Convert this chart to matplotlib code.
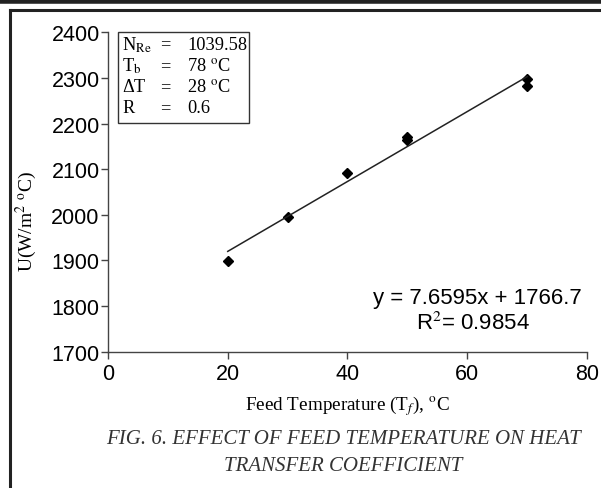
import matplotlib.pyplot as plt
import numpy as np
from matplotlib.lines import Line2D

# measured points
feed_temp = [20, 30, 40, 50, 50, 70, 70]
u_value = [1898, 1995, 2091, 2165, 2170, 2297, 2282]

# linear trendline (slope, intercept) as printed on the chart
trend_coef = [7.6595, 1766.7]
trend_range = [20, 70]

x_ticks = [0, 20, 40, 60, 80]
y_ticks = [1700, 1800, 1900, 2000, 2100, 2200, 2300, 2400]

params = [("N$_{\\mathrm{Re}}$", "1039.58"),
          ("T$_{\\mathrm{b}}$", "78 $^{\\mathrm{o}}$C"),
          ("\u0394T", "28 $^{\\mathrm{o}}$C"),
          ("R", "0.6")]

plt.rcParams['mathtext.fontset'] = 'stix'
serif = 'Liberation Serif'
sans = 'Liberation Sans'

fig = plt.figure(figsize=(6.01, 4.89), dpi=100)
ax = fig.add_axes([0.1797, 0.2787, 0.797, 0.6532])

ax.plot(feed_temp, u_value, linestyle='none', marker='D', markersize=5,
        color='black')
tx = np.array(trend_range)
ax.plot(tx, trend_coef[0] * tx + trend_coef[1], color='#222222', lw=1.1)

ax.set_xlim(0, 80)
ax.set_ylim(1700, 2400)
ax.set_xticks(x_ticks)
ax.set_yticks(y_ticks)
ax.spines['top'].set_visible(False)
ax.spines['right'].set_visible(False)
for s in ('left', 'bottom'):
    ax.spines[s].set_color('#444444')
    ax.spines[s].set_linewidth(1.0)
ax.tick_params(direction='out', length=5, width=1, color='#444444',
               labelsize=15.5, pad=1)
ax.tick_params(axis='x', pad=3)
for lab in ax.get_xticklabels() + ax.get_yticklabels():
    lab.set_fontfamily(sans)

ax.set_ylabel("U(W/m$^{2}$ $^{\\mathrm{o}}$C)", fontfamily=serif,
              fontsize=14)
ax.yaxis.set_label_coords(-0.145, 0.41)
ax.set_xlabel("Feed Temperature (T$_{f}$), $^{\\mathrm{o}}$C",
              fontfamily=serif, fontsize=13.8, labelpad=7)

# trendline equation
ax.text(0.772, 0.169, "y = 7.6595x + 1766.7", transform=ax.transAxes,
        ha='center', va='center', fontfamily=sans, fontsize=16)
ax.text(0.762, 0.092, "R$^{2}$= 0.9854", transform=ax.transAxes,
        ha='center', va='center', fontfamily=sans, fontsize=16)

# parameter box
box = plt.Rectangle((118 / 601, 1 - 124 / 489), 131 / 601, 91 / 489,
                    transform=fig.transFigure, fill=False,
                    edgecolor='#333333', lw=1.0)
fig.add_artist(box)
for i, (name, val) in enumerate(params):
    yy = 1 - (45 + i * 21.3) / 489
    fig.text(122 / 601, yy, name, fontfamily=serif, fontsize=13.2, va='center')
    fig.text(160 / 601, yy, "=", fontfamily=serif, fontsize=13.2, va='center')
    fig.text(187 / 601, yy, val, fontfamily=serif, fontsize=13.2, va='center')

# caption
fig.text(0.571, 1 - 440 / 489, "FIG. 6. EFFECT OF FEED TEMPERATURE ON HEAT",
         ha='center', va='center', fontfamily=serif, fontstyle='italic',
         fontsize=15, color='#333333')
fig.text(0.571, 1 - 467 / 489, "TRANSFER COEFFICIENT",
         ha='center', va='center', fontfamily=serif, fontstyle='italic',
         fontsize=15, color='#333333')

# page frame
fig.add_artist(Line2D([0, 1], [1 - 2 / 489, 1 - 2 / 489],
                      transform=fig.transFigure, color='#222222', lw=4))
fig.add_artist(Line2D([10 / 601, 1], [1 - 10.5 / 489, 1 - 10.5 / 489],
                      transform=fig.transFigure, color='#222222', lw=2.2))
fig.add_artist(Line2D([10.5 / 601, 10.5 / 601], [0, 1 - 10.5 / 489],
                      transform=fig.transFigure, color='#222222', lw=2.2))

fig.savefig('out.png', dpi=100)
